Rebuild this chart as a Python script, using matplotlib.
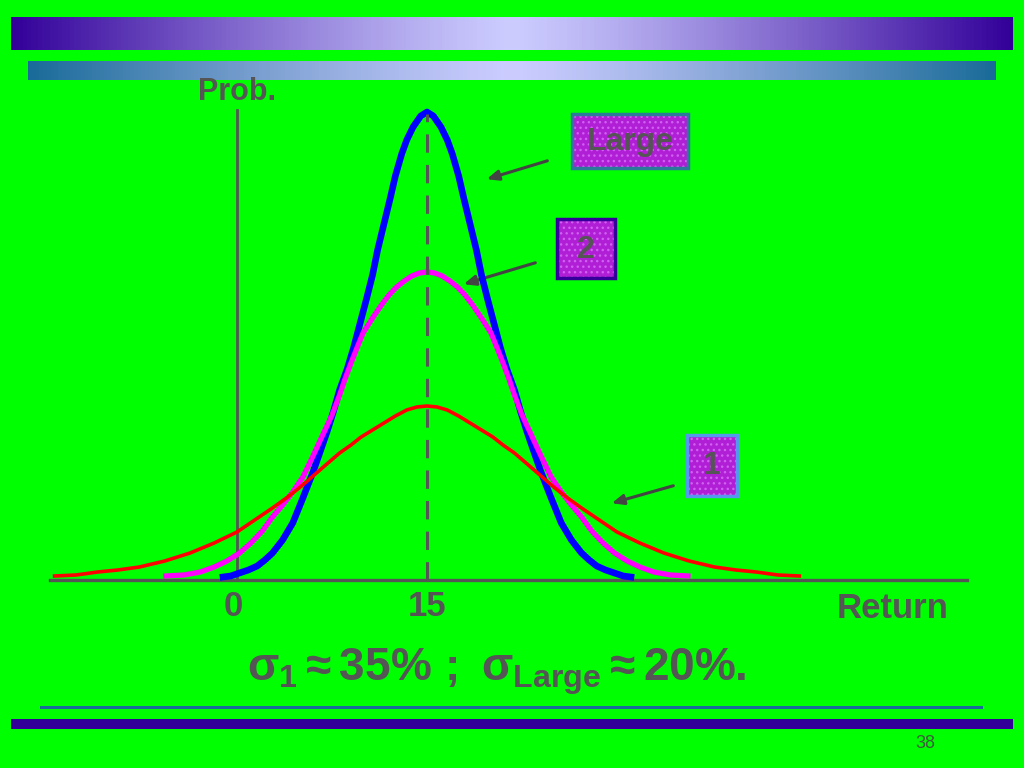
import numpy as np
import matplotlib
matplotlib.use("Agg")
import matplotlib.pyplot as plt
from matplotlib.patches import Rectangle, FancyArrowPatch

plt.rcParams['font.family'] = ['Liberation Sans', 'DejaVu Sans']
plt.rcParams['mathtext.fontset'] = 'custom'
plt.rcParams['mathtext.rm'] = 'Liberation Sans:bold'
plt.rcParams['mathtext.it'] = 'Liberation Sans:bold'
plt.rcParams['mathtext.bf'] = 'Liberation Sans:bold'
plt.rcParams['hatch.color'] = '#d060f0'
plt.rcParams['hatch.linewidth'] = 1.0

# --- data (half profiles, distance from the mean) ---
mean_return = 15
blue_offset = [0, 0.5, 1.1, 1.6, 2.0, 2.5, 2.9, 3.4, 3.9, 4.3, 4.8, 5.3, 5.8, 6.3, 6.9,
               7.4, 7.9, 8.5, 9.0, 9.8, 10.6, 11.4, 12.2, 12.8, 13.4, 14.1, 14.8, 15.5, 16.1]
blue_prob = [4.68, 4.64, 4.53, 4.40, 4.26, 4.04, 3.82, 3.56, 3.30, 3.05, 2.80, 2.56, 2.32, 2.11, 1.90,
             1.68, 1.48, 1.26, 1.08, 0.82, 0.57, 0.40, 0.27, 0.20, 0.14, 0.10, 0.07, 0.04, 0.03]
magenta_offset = [0, 0.6, 1.2, 1.8, 2.4, 3.0, 3.6, 4.3, 5.05, 5.5, 6.0, 6.5, 6.9, 7.5,
                  8.2, 9.0, 9.8, 10.6, 11.4, 12.2, 13.0, 13.9, 14.8, 15.8, 16.8, 17.9, 19.2, 20.6]
magenta_prob = [3.08, 3.07, 3.04, 2.99, 2.93, 2.85, 2.75, 2.62, 2.47, 2.33, 2.17, 2.00, 1.85, 1.65,
                1.46, 1.24, 1.03, 0.88, 0.75, 0.63, 0.49, 0.37, 0.27, 0.19, 0.13, 0.08, 0.05, 0.04]
red_offset = [0, 0.8, 1.6, 2.5, 3.4, 4.3, 5.2, 6.0, 6.9, 8.0, 9.0, 10.0, 11.1, 12.2,
              13.6, 15.0, 16.8, 18.7, 20.7, 22.7, 24.4, 26.0, 27.7, 29.4]
red_prob = [1.74, 1.73, 1.70, 1.64, 1.57, 1.50, 1.43, 1.35, 1.27, 1.15, 1.04, 0.93, 0.82, 0.72,
            0.60, 0.48, 0.37, 0.27, 0.19, 0.13, 0.10, 0.08, 0.05, 0.04]

tick_values = [0, 15]
tick_labels = ["0", "15"]


def full_curve(offset, prob):
    off = np.array(offset)
    p = np.array(prob)
    x = np.concatenate([mean_return - off[::-1], mean_return + off[1:]])
    y = np.concatenate([p[::-1], p[1:]])
    return x, y


GREEN = '#00ff00'
GRAY = '#555555'

fig = plt.figure(figsize=(10.24, 7.68), dpi=100, facecolor=GREEN)

# overlay in pixel coordinates for the slide decoration
deco = fig.add_axes([0, 0, 1, 1])
deco.set_xlim(0, 1024)
deco.set_ylim(768, 0)
deco.set_axis_off()


def gradient_bar(ax, x0, x1, y0, y1, edge, mid):
    t = np.linspace(-1, 1, 256)
    w = np.abs(t) ** 1.2
    e = np.array(matplotlib.colors.to_rgb(edge))
    m = np.array(matplotlib.colors.to_rgb(mid))
    img = (m[None, :] * (1 - w[:, None]) + e[None, :] * w[:, None])[None, :, :]
    ax.imshow(img, extent=(x0, x1, y1, y0), aspect='auto', zorder=1)


gradient_bar(deco, 11, 1013, 17, 50, '#330099', '#ccccff')
gradient_bar(deco, 28, 996, 61, 80, '#196b99', '#ccccff')
deco.add_patch(Rectangle((40, 705.5), 943, 3.5, color='#1a6a9a', lw=0))
deco.add_patch(Rectangle((11, 719), 1002, 10, color='#330099', lw=0))
deco.text(925, 744, "38", fontsize=13, color='#3a5f3a', ha='center', va='center')

# boxes
box_fill = '#b01ed6'
boxes = [("Large", 572, 114, 116, 54, '#2a7a9a'),
         ("2", 557, 219, 58, 59, '#330099'),
         ("1", 687, 435, 50, 61, '#5599ee')]
for label, bx, by, bw, bh, ec in boxes:
    deco.add_patch(Rectangle((bx, by), bw, bh, facecolor=box_fill, lw=0, zorder=3))
    deco.add_patch(Rectangle((bx, by), bw, bh, facecolor='none', edgecolor='#d060f0', lw=0,
                             hatch='...', zorder=3))
    deco.add_patch(Rectangle((bx, by), bw, bh, facecolor='none', edgecolor=ec, lw=2.5, zorder=3))
    deco.text(bx + bw / 2, by + bh / 2 + 1, label, fontsize=23, fontweight='bold',
              color=GRAY, ha='center', va='center', zorder=4)

arrows = [((550, 160), (484, 180)), ((538, 262), (461, 285)), ((676, 485), (609, 504))]
for (sx, sy), (ex, ey) in arrows:
    deco.add_patch(FancyArrowPatch((sx, sy), (ex, ey), arrowstyle='-|>,head_length=7,head_width=3',
                                   color='#444444', lw=2.2, zorder=4))

# chart axes: data coordinates mapped onto the slide
ax = fig.add_axes([0, 0, 1, 1], facecolor='none')
px_per_unit = 190 / 15.0
ax.set_xlim((0 - 237) / px_per_unit, (1024 - 237) / px_per_unit)
ax.set_ylim((580 - 768) / 100.0, 580 / 100.0)
ax.set_axis_off()

x0l = (50 - 237) / px_per_unit
x1l = (967 - 237) / px_per_unit
ax.plot([x0l, x1l], [0, 0], color=GRAY, lw=2.4, zorder=2)
ax.plot([0, 0], [0, 4.70], color=GRAY, lw=2.0, zorder=2)
ax.plot([mean_return, mean_return], [0, 4.66], color=GRAY, lw=2.2,
        dashes=(6, 4), zorder=5)

bx_, by_ = full_curve(blue_offset, blue_prob)
mx_, my_ = full_curve(magenta_offset, magenta_prob)
rx_, ry_ = full_curve(red_offset, red_prob)
ax.plot(bx_, by_, color='#0000ff', lw=4.8, solid_joinstyle='round', zorder=3)
ax.plot(mx_, my_, color='#ff00ff', lw=3.8, solid_joinstyle='round', zorder=3)
ax.plot(rx_, ry_, color='#ff0000', lw=2.6, solid_joinstyle='round', zorder=4)

for v, lab in zip(tick_values, tick_labels):
    ax.text(v - (0.3 if v == 0 else 0), -0.26, lab, fontsize=25, fontweight='bold',
            color=GRAY, ha='center', va='center')
ax.text((949 - 237) / px_per_unit, -0.29, "Return", fontsize=25, fontweight='bold',
        color=GRAY, ha='right', va='center')
ax.text(0, 4.88, "Prob.", fontsize=22, fontweight='bold', color=GRAY,
        ha='center', va='center')
ax.text((497 - 237) / px_per_unit, -0.92,
        r"$\sigma_1 \approx 35\%\ ;\ \sigma_{Large} \approx 20\%.$",
        fontsize=33, color=GRAY, ha='center', va='center')

fig.savefig("out.png", dpi=100, facecolor=GREEN)
